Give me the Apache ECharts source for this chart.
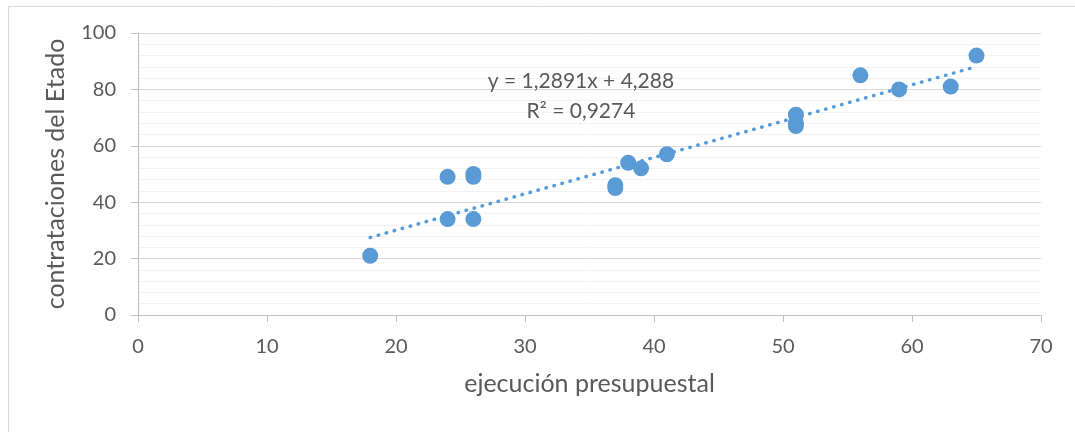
<!DOCTYPE html>
<html>
<head>
<meta charset="utf-8">
<script src="https://cdn.jsdelivr.net/npm/echarts@6/dist/echarts.min.js"></script>
<style>
html,body{margin:0;padding:0;background:#fff;}
#c{width:1075px;height:432px;}
</style>
</head>
<body>
<div id="c"></div>
<script>
// Data
const xValues = [18, 24, 24, 26, 26, 26, 37, 37, 38, 39, 41, 51, 51, 51, 56, 59, 63, 65];
const yValues = [21, 49, 34, 50, 49, 34, 46, 45, 54, 52, 57, 71, 68, 67, 85, 80, 81, 92];
const trendX = [18, 65];
const trendY = [27.5, 88.1];
const xTitle = 'ejecución presupuestal';
const yTitle = 'contrataciones del Etado';
const eqLines = ['y = 1,2891x + 4,288', 'R² = 0,9274'];

const blue = '#5b9bd5';
const textColor = '#595959';
const font = 'Lato';

const chart = echarts.init(document.getElementById('c'), null, {renderer: 'canvas'});
const points = xValues.map((x, i) => [x, yValues[i]]);
const trend = trendX.map((x, i) => [x, trendY[i]]);

chart.setOption({
  animation: false,
  backgroundColor: '#fff',
  grid: {left: 138, right: 34, top: 33, bottom: 117, containLabel: false},
  xAxis: {
    type: 'value', min: 0, max: 70, interval: 10,
    name: xTitle, nameLocation: 'middle', nameGap: 56,
    nameTextStyle: {color: textColor, fontSize: 25, fontFamily: font},
    axisLine: {show: true, onZero: false, lineStyle: {color: '#bfbfbf', width: 1}},
    axisTick: {show: true, length: 7, lineStyle: {color: '#bfbfbf'}},
    axisLabel: {color: textColor, fontSize: 20, fontFamily: font, margin: 22},
    splitLine: {show: false}
  },
  yAxis: {
    type: 'value', min: 0, max: 100, interval: 20,
    name: yTitle, nameLocation: 'middle', nameGap: 70, nameRotate: 90,
    nameTextStyle: {color: textColor, fontSize: 25, fontFamily: font},
    axisLine: {show: true, lineStyle: {color: '#bfbfbf', width: 1}},
    axisTick: {show: true, length: 7, lineStyle: {color: '#bfbfbf'}},
    axisLabel: {color: textColor, fontSize: 20, fontFamily: font, margin: 22},
    splitLine: {show: true, lineStyle: {color: '#d9d9d9', width: 1}},
    minorTick: {show: false, splitNumber: 5},
    minorSplitLine: {show: true, lineStyle: {color: '#f2f2f2', width: 1}}
  },
  series: [
    {
      type: 'line', data: trend, symbol: 'none', silent: true, z: 1,
      lineStyle: {color: blue, width: 3.5, type: [0.5, 7.8], cap: 'round'}
    },
    {
      type: 'scatter', data: points, symbol: 'circle', symbolSize: 16, z: 3,
      itemStyle: {color: blue, opacity: 1}
    }
  ],
  graphic: [
    {type: 'rect', left: 6, top: 4, z: -10, silent: true,
     shape: {width: 1200, height: 600},
     style: {fill: 'none', stroke: '#d9d9d9', lineWidth: 1}},
    {type: 'text', x: 581, y: 81, z: 10,
     style: {text: eqLines[0], fill: textColor, font: '21px ' + font, align: 'center', verticalAlign: 'middle'}},
    {type: 'text', x: 581, y: 111, z: 10,
     style: {text: eqLines[1], fill: textColor, font: '21px ' + font, align: 'center', verticalAlign: 'middle'}}
  ]
});
</script>
</body>
</html>
